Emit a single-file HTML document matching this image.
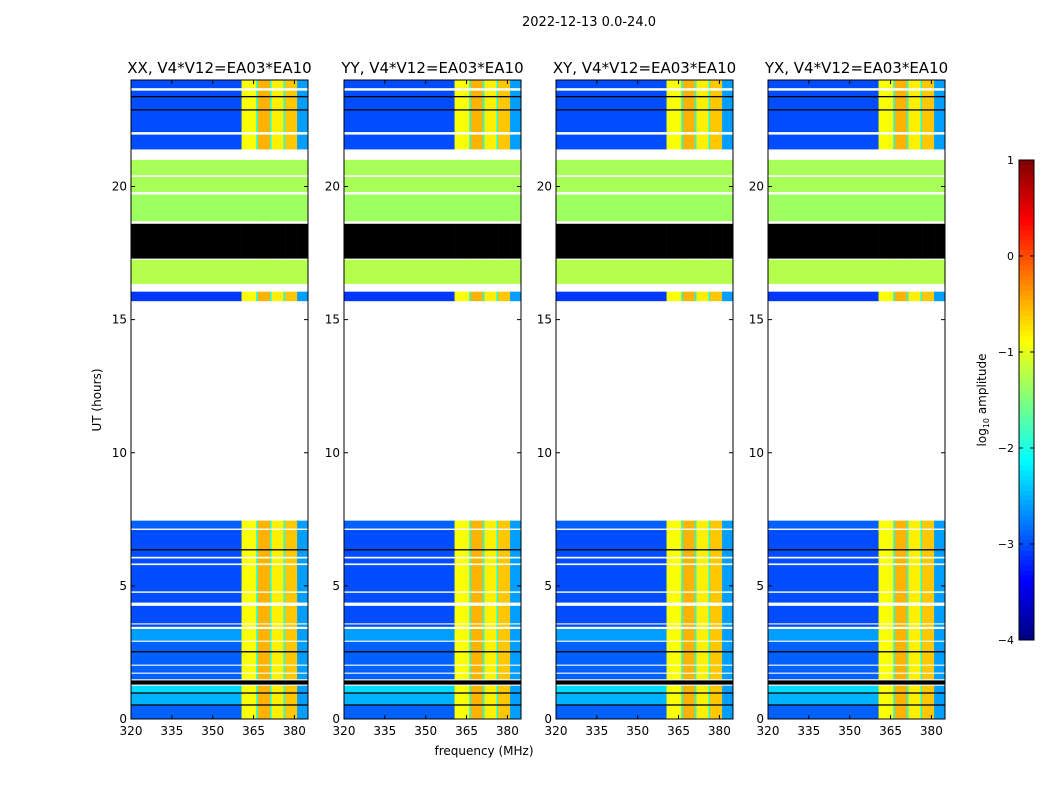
<!DOCTYPE html>
<html><head><meta charset="utf-8"><style>
body{margin:0;background:#fff;}
svg{display:block;font-family:"DejaVu Sans","Liberation Sans",sans-serif;}
</style></head><body>
<svg id="fig" width="1050" height="800" viewBox="0 0 1050 800" xmlns="http://www.w3.org/2000/svg">
<rect width="1050" height="800" fill="#fff"/>
<text x="589" y="26" font-size="13" text-anchor="middle">2022-12-13 0.0-24.0</text>
<text x="484" y="755" font-size="12" text-anchor="middle">frequency (MHz)</text>
<text transform="translate(101,400) rotate(-90)" font-size="12" text-anchor="middle">UT (hours)</text>
<text transform="translate(986,400) rotate(-90)" font-size="12" text-anchor="middle">log<tspan font-size="8" dy="3">10</tspan><tspan dy="-3"> amplitude</tspan></text>
<g id="panels"></g>
<g id="cbar"></g>
</svg>
<script>
// ---- data ----
const panelTitles = ["XX, V4*V12=EA03*EA10","YY, V4*V12=EA03*EA10","XY, V4*V12=EA03*EA10","YX, V4*V12=EA03*EA10"];
const xTicks = [320,335,350,365,380];
const yTicks = [0,5,10,15,20];
const cbTicks = [1,0,-1,-2,-3,-4];
// frequency columns: start MHz, and RFI level (null = quiet, uses row base)
const freqStart = [320, 360.6, 366, 366.6, 371, 371.6, 376, 376.6, 381];
const freqLevel = [null, -0.9, -2.0, -0.5, -2.0, -0.8, -2.0, -0.6, -2.6];
const freqMax = 385;
// time rows, top-down: upper time edge (row ends at next row's top), kind, base log amplitude
const rowTop  = [24,23.7,23.6,23.4,23.35,22.9,22.85,22.05,21.95,21.4,21.0,20.43,20.36,19.8,19.7,18.7,18.6,17.3,17.25,16.35,16.05,15.7,
                 7.45,7.16,7.1,6.38,6.33,6.1,6.03,5.85,5.78,4.8,4.74,4.38,4.25,3.6,3.55,3.47,3.38,2.95,2.9,2.55,2.5,2.05,2.0,1.75,1.7,1.5,1.45,1.3,1.25,1.0,0.95,0.55,0.5];
const rowKind = ["d","w","d","k","d","k","d","w","d","w","f","w","f","w","f","w","k","w","f","w","d","w",
                 "d","w","d","k","d","w","d","w","d","w","d","w","d","w","d","w","d","w","d","k","d","w","d","w","d","w","k","w","d","k","d","k","d"];
const rowBase = [-3.0,0,-3.0,0,-3.0,0,-3.0,0,-3.0,0,-1.3,0,-1.3,0,-1.35,0,0,0,-1.25,0,-3.1,0,
                 -2.9,0,-3.0,0,-3.0,0,-3.0,0,-3.0,0,-3.0,0,-3.0,0,-3.0,0,-2.6,0,-2.9,0,-2.9,0,-2.9,0,-2.9,0,0,0,-2.3,0,-2.5,0,-2.9];

// ---- scales ----
const panelX = [131,344,556,768], panelW = 177, yTop = 80, yBot = 719;
const fMin = 320, fMax = 385, tMin = 0, tMax = 24;
const xs = (p,f)=>panelX[p] + (f-fMin)/(fMax-fMin)*panelW;
const ys = t => yBot - (t-tMin)/(tMax-tMin)*(yBot-yTop);
function jet(v){ // v in [-4,1]
  let x=(v+4)/5; x=Math.max(0,Math.min(1,x));
  const c=t=>Math.round(255*Math.max(0,Math.min(1,1.5-Math.abs(4*x-t))));
  return `rgb(${c(3)},${c(2)},${c(1)})`;
}
const NS="http://www.w3.org/2000/svg";
function mk(tag,attrs,parent){const e=document.createElementNS(NS,tag);for(const k in attrs)e.setAttribute(k,attrs[k]);parent.appendChild(e);return e;}

const G=document.getElementById('panels');
for(let p=0;p<4;p++){
  const g=mk('g',{},G);
  
  
  for(let r=0;r<rowTop.length;r++){
    const bottom = r+1<rowTop.length ? rowTop[r+1] : 0;
    const y1=ys(rowTop[r]), y2=ys(bottom);
    if(rowKind[r]==='w') continue;
    for(let c=0;c<freqStart.length;c++){
      let fill;
      if(rowKind[r]==='k') fill='#000';
      else if(rowKind[r]==='f') fill=jet(rowBase[r]);
      else fill=jet(freqLevel[c]===null ? rowBase[r] : freqLevel[c]);
      const fe = c+1<freqStart.length ? freqStart[c+1] : freqMax;
      const x1=xs(p,freqStart[c]), x2=xs(p,Math.min(fe,fMax));
      const rc=mk('rect',{x:x1,y:y1,width:x2-x1+0.3,height:y2-y1+0.2,fill:fill},g);
      
      
    }
  }
  const fr=mk('rect',{x:panelX[p],y:yTop,width:panelW,height:yBot-yTop,fill:'none',stroke:'#000','stroke-width':1},g);
  
  
  const tt=mk('text',{x:panelX[p]+panelW/2,y:73,'font-size':15,'text-anchor':'middle'},g);
  tt.textContent=panelTitles[p];
  
  
  xTicks.forEach(f=>{
    const x=xs(p,f);
    mk('line',{x1:x,x2:x,y1:yBot,y2:yBot-4,stroke:'#000'},g);
    mk('line',{x1:x,x2:x,y1:yTop,y2:yTop+4,stroke:'#000'},g);
    const t=mk('text',{x:x,y:yBot+16,'font-size':12,'text-anchor':'middle'},g);
    t.textContent=f;
    
    
  });
  yTicks.forEach(v=>{
    const y=ys(v);
    mk('line',{x1:panelX[p],x2:panelX[p]+4,y1:y,y2:y,stroke:'#000'},g);
    mk('line',{x1:panelX[p]+panelW,x2:panelX[p]+panelW-4,y1:y,y2:y,stroke:'#000'},g);
    const t=mk('text',{x:panelX[p]-4,y:y+4,'font-size':12,'text-anchor':'end'},g);
    t.textContent=v;
    
    
  });
}
// colorbar
const CB=document.getElementById('cbar');


const cbX=1019,cbW=15,cbT=160,cbB=640,steps=96;
for(let i=0;i<steps;i++){
  const v=-4+5*(i+0.5)/steps;
  const y=cbB-(i+1)*(cbB-cbT)/steps;
  mk('rect',{x:cbX,y:y,width:cbW,height:(cbB-cbT)/steps+0.5,fill:jet(v)},CB);
}
mk('rect',{x:cbX,y:cbT,width:cbW,height:cbB-cbT,fill:'none',stroke:'#000'},CB);
cbTicks.forEach(v=>{
  const y=cbB-(v+4)/5*(cbB-cbT);
  mk('line',{x1:cbX,x2:cbX+4,y1:y,y2:y,stroke:'#000'},CB);
  mk('line',{x1:cbX+cbW,x2:cbX+cbW-4,y1:y,y2:y,stroke:'#000'},CB);
  const t=mk('text',{x:1014,y:y+4,'font-size':11,'text-anchor':'end'},CB);
  t.textContent=v<0?'\u2212'+(-v):String(v);
  
  
});
</script>
</body></html>
